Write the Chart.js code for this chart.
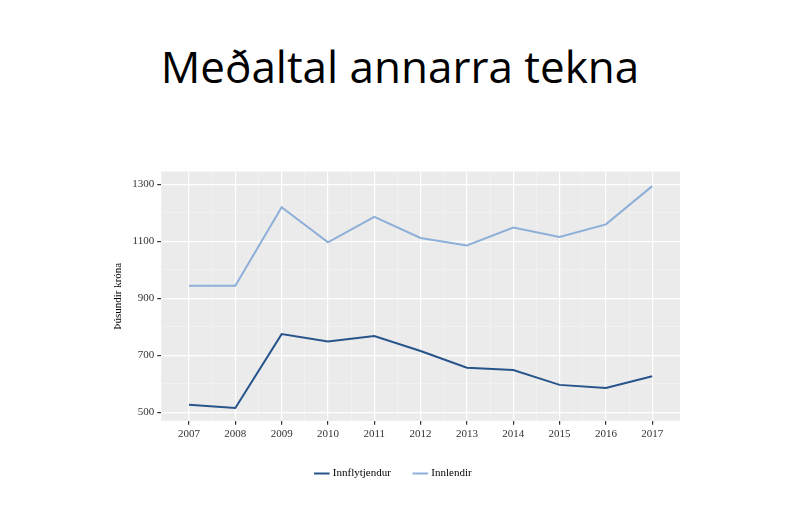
<!DOCTYPE html>
<html><head><meta charset="utf-8">
<script src="https://cdn.jsdelivr.net/npm/chart.js@4"></script>
<style>
body{margin:0;width:800px;height:532px;background:#fff;overflow:hidden;font-family:"Open Sans",sans-serif}
#t{position:absolute;left:0;width:800px;top:36px;text-align:center;font-size:44px;color:#000;font-family:"Open Sans","Liberation Sans",sans-serif}
#c{position:absolute;left:108px;top:162px;width:580px;height:327px}
</style></head><body>
<div id="t">Meðaltal annarra tekna</div>
<div id="c"><canvas id="cv"></canvas></div>
<script>
const years=[2007,2008,2009,2010,2011,2012,2013,2014,2015,2016,2017];
const innflytjendur=[526,515,774,748,767,715,656,648,596,585,626];
const innlendir=[944,944,1219,1096,1185,1111,1085,1148,1115,1159,1293];
const yTicks=[500,600,700,800,900,1000,1100,1200,1300];
const serif='"Liberation Serif","DejaVu Serif",serif';
const bg={id:'bg',beforeDraw(ch){const a=ch.chartArea,c=ch.ctx;c.save();c.fillStyle='#EBEBEB';c.fillRect(a.left,a.top,a.right-a.left,a.bottom-a.top);c.restore();}};
new Chart(document.getElementById('cv'),{type:'line',
data:{datasets:[
{label:'Innflytjendur',data:years.map((y,i)=>({x:y,y:innflytjendur[i]})),borderColor:'#27548A',backgroundColor:'#27548A',borderWidth:2,pointRadius:0,tension:0},
{label:'Innlendir',data:years.map((y,i)=>({x:y,y:innlendir[i]})),borderColor:'#8EAFD8',backgroundColor:'#8EAFD8',borderWidth:2,pointRadius:0,tension:0}]},
options:{responsive:true,maintainAspectRatio:false,animation:false,
layout:{padding:{right:8}},
plugins:{legend:{position:'bottom',labels:{usePointStyle:true,pointStyle:'line',boxWidth:18,padding:24,font:{family:serif,size:11},color:'#000'}},tooltip:{enabled:false}},
scales:{
x:{type:'linear',min:2006.4,max:2017.6,
afterBuildTicks(s){const t=[];for(let v=2007;v<=2017;v+=0.5)t.push({value:v});s.ticks=t;},
ticks:{autoSkip:false,maxRotation:0,font:{family:serif,size:11},color:'#333',callback:v=>Number.isInteger(v)?String(v):''},
grid:{color:c=>Number.isInteger(c.tick.value)?'#fff':'#F5F5F5',lineWidth:c=>Number.isInteger(c.tick.value)?1.2:0.6,tickColor:c=>Number.isInteger(c.tick.value)?'#333':'rgba(0,0,0,0)',tickLength:4},border:{display:false}},
y:{min:470,max:1344,
afterBuildTicks(s){s.ticks=yTicks.map(v=>({value:v}));},
title:{display:true,text:'Þúsundir króna',font:{family:serif,size:11},color:'#000'},
ticks:{font:{family:serif,size:11},color:'#333',callback:v=>v%200===100?String(v):''},
grid:{color:c=>c.tick.value%200===100?'#fff':'#F5F5F5',lineWidth:c=>c.tick.value%200===100?1.2:0.6,tickColor:c=>c.tick.value%200===100?'#333':'rgba(0,0,0,0)',tickLength:4},border:{display:false}}}}
,plugins:[bg]});
</script></body></html>
